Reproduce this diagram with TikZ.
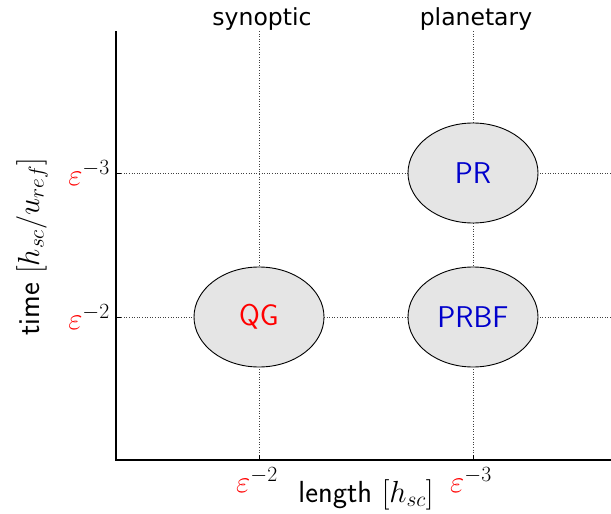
\RequirePackage{fix-cm}
\documentclass[tikz,border=0pt]{standalone}
\usepackage{amsmath,amssymb}
\usepackage{xcolor}
\usepackage{fontspec}
\newfontfamily\dejavu{DejaVu Sans}
\usetikzlibrary{shapes.geometric}
\definecolor{regfill}{gray}{0.9}
\definecolor{regblue}{rgb}{0,0,0.8}

\begin{document}
\begin{tikzpicture}[x=1pt, y=-1pt,
  axis/.style={line width=1.3pt},
  grid/.style={dotted, line width=0.6pt, black!75},
  tck/.style={line width=1pt},
  reg/.style={ellipse, draw, line width=0.9pt, fill=regfill,
    minimum width=130, minimum height=100, inner sep=0pt,
    font=\sffamily\fontsize{30}{32}\selectfont},
  ticklab/.style={inner sep=0pt, font=\fontsize{31}{34}\selectfont},
  axlab/.style={inner sep=0pt, font=\sffamily\fontsize{30.5}{34}\selectfont},
  toplab/.style={anchor=base, inner sep=0pt, font=\dejavu\fontsize{23.5}{28}\selectfont}]
\useasboundingbox (0,0) rectangle (611,514);
% corners of the axes
\coordinate (o) at (116,460);
\coordinate (top) at (116,31);
\coordinate (rgt) at (611,460);
% dotted grid
\foreach \y in {173,317} \draw[grid] (116,\y) -- (611,\y);
\foreach \x in {259,473} \draw[grid] (\x,31) -- (\x,460);
% ticks
\foreach \y in {173,317} \draw[tck] (116,\y) -- (121,\y);
\foreach \x in {259,473} \draw[tck] (\x,460) -- (\x,455);
\draw[axis] (top) -- (o) -- (rgt);
% tick labels
\node[ticklab, anchor=east] (ym3) at (110,173) {$\textcolor{red}{\varepsilon}^{-3}$};
\node[ticklab, anchor=east] (ym2) at (110,317) {$\textcolor{red}{\varepsilon}^{-2}$};
\node[ticklab, anchor=north] (xm2) at (257,467) {$\textcolor{red}{\varepsilon}^{-2}$};
\node[ticklab, anchor=north] (xm3) at (471,467) {$\textcolor{red}{\varepsilon}^{-3}$};
% axis labels
\node[axlab, anchor=base] (xlab) at (366,502) {length $[h_{sc}]$};
\node[axlab, rotate=90] (ylab) at (32,247) {time $[h_{sc}/u_{ref}]$};
\node[toplab] (syn) at (262,25) {synoptic};
\node[toplab] (plan) at (476,25) {planetary};
% regimes
\node[reg, text=red] (qg) at (259,317) {QG};
\node[reg, text=regblue] (pr) at (473,173) {PR};
\node[reg, text=regblue] (prbf) at (473,317) {PRBF};
\end{tikzpicture}
\end{document}
